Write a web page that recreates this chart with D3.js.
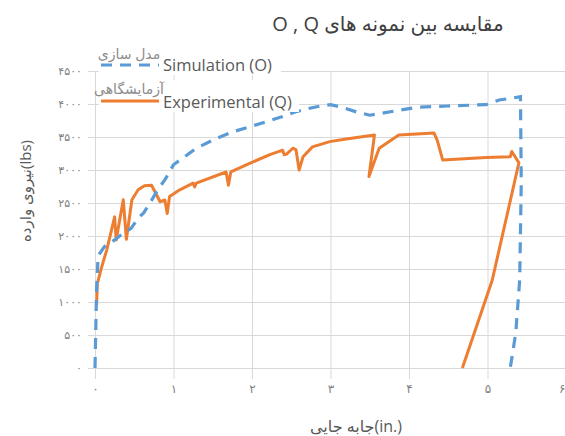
<!DOCTYPE html>
<html>
<head>
<meta charset="utf-8">
<script src="https://cdn.jsdelivr.net/npm/d3@7/dist/d3.min.js"></script>
<style>
	body { margin: 0; background: #fff; }
	text { font-family: "Open Sans", "DejaVu Sans", sans-serif; }
</style>
</head>
<body>
<svg class="chart"></svg>
<script>

// Simulation (O) - dashed blue
var simX = [0.00, 0.01, 0.02, 0.04, 0.12, 0.25, 0.33, 0.46, 0.55, 0.62, 0.70, 0.80, 0.90, 1.00, 1.14, 1.29, 1.55, 1.76, 1.97, 2.18, 2.39, 2.55, 2.75, 2.90, 3.00, 3.15, 3.33, 3.50, 3.65, 3.80, 4.10, 4.50, 4.98, 5.15, 5.42, 5.43, 5.41, 5.36, 5.29];
var simY = [0, 600, 1200, 1700, 1840, 1940, 2015, 2115, 2270, 2350, 2500, 2700, 2870, 3080, 3200, 3330, 3480, 3580, 3655, 3730, 3810, 3880, 3940, 3975, 3990, 3950, 3880, 3830, 3860, 3890, 3950, 3970, 3990, 4060, 4110, 2800, 1330, 530, 0];

// Experimental (Q) - solid orange
var expX = [0.02, 0.03, 0.08, 0.15, 0.21, 0.25, 0.27, 0.36, 0.40, 0.47, 0.55, 0.63, 0.72, 0.83, 0.89, 0.92, 0.95, 1.08, 1.25, 1.27, 1.29, 1.67, 1.70, 1.73, 1.97, 2.22, 2.39, 2.41, 2.44, 2.52, 2.56, 2.60, 2.65, 2.77, 2.99, 3.20, 3.56, 3.49, 3.62, 3.87, 4.32, 4.36, 4.43, 4.98, 5.29, 5.31, 5.40, 5.06, 4.68];
var expY = [950, 1280, 1510, 1790, 2090, 2290, 1940, 2550, 1950, 2550, 2700, 2760, 2770, 2520, 2545, 2340, 2600, 2700, 2800, 2745, 2800, 2970, 2770, 2970, 3100, 3230, 3300, 3230, 3240, 3330, 3310, 3000, 3200, 3350, 3430, 3470, 3530, 2900, 3330, 3530, 3560, 3450, 3150, 3190, 3200, 3280, 3110, 1330, 0];

var xTicks = [0, 1, 2, 3, 4, 5, 6];
var xTickLabels = ["۰", "۱", "۲", "۳", "۴", "۵", "۶"];
var yTicks = [0, 500, 1000, 1500, 2000, 2500, 3000, 3500, 4000, 4500];
var yTickLabels = ["۰", "۵۰۰", "۱۰۰۰", "۱۵۰۰", "۲۰۰۰", "۲۵۰۰", "۳۰۰۰", "۳۵۰۰", "۴۰۰۰", "۴۵۰۰"];

var seriesNames = ["Simulation (O)", "Experimental (Q)"];
var seriesNamesFa = ["مدل سازی", "آزمایشگاهی"];
var chartTitle = "مقایسه بین نمونه های O , Q";
var yTitle = "نیروی وارده(lbs)";
var xTitle = "جابه جایی(in.)";

var svgWidth = 565,
	svgHeight = 436;

var chart = d3.select( ".chart" )
	.attr( "width", svgWidth )
	.attr( "height", svgHeight );

var plotLeft = 95,
	plotRight = 566,
	plotTop = 71,
	plotBottom = 368;

var x = d3.scaleLinear().domain( [0, 6] ).range( [plotLeft, plotRight] );
var y = d3.scaleLinear().domain( [0, 4500] ).range( [plotBottom, plotTop] );

var gridColor = "#d9d9d9",
	blue = "#5b9bd5",
	orange = "#ed7d31";

// y grid + labels
var yAxis = chart.append( "g" )
	.attr( "transform", "translate(" + plotLeft + ",0)" )
	.call( d3.axisLeft( y )
		.tickValues( yTicks )
		.tickFormat( function(d, i) { return yTickLabels[i]; } )
		.tickSizeInner( -(plotRight - plotLeft) )
		.tickSizeOuter( 0 )
		.tickPadding( 13 ) );
yAxis.select( ".domain" ).remove();
yAxis.selectAll( "line" ).attr( "x1", -7 ).attr( "stroke", gridColor );
yAxis.selectAll( "text" )
	.attr( "fill", "#7f7f7f" )
	.style( "font-family", "'DejaVu Sans', sans-serif" )
	.style( "font-size", "11px" );

// x grid + labels
var xAxis = chart.append( "g" )
	.attr( "transform", "translate(0," + plotBottom + ")" )
	.call( d3.axisBottom( x )
		.tickValues( xTicks )
		.tickFormat( function(d, i) { return xTickLabels[i]; } )
		.tickSizeInner( -(plotBottom - plotTop) )
		.tickSizeOuter( 0 )
		.tickPadding( 16 ) );
xAxis.select( ".domain" ).remove();
xAxis.selectAll( "line" ).attr( "y1", 11 ).attr( "stroke", gridColor );
xAxis.selectAll( "text" )
	.attr( "fill", "#7f7f7f" )
	.style( "font-family", "'DejaVu Sans', sans-serif" )
	.style( "font-size", "12px" );
// last label sits on the window edge, keep it inside
xAxis.selectAll( "text" )
	.filter( function(d) { return d === 6; } )
	.attr( "text-anchor", "end" )
	.attr( "dx", "-1" );

// series
var line = d3.line()
	.x( function(d) { return x( d[0] ); } )
	.y( function(d) { return y( d[1] ); } );

chart.append( "path" )
	.datum( d3.zip( expX, expY ) )
	.attr( "d", line )
	.attr( "fill", "none" )
	.attr( "stroke", orange )
	.attr( "stroke-width", 3 )
	.attr( "stroke-linejoin", "round" );

chart.append( "path" )
	.datum( d3.zip( simX, simY ) )
	.attr( "d", line )
	.attr( "fill", "none" )
	.attr( "stroke", blue )
	.attr( "stroke-width", 3.2 )
	.attr( "stroke-dasharray", "11,8" );

// legend
var legend = chart.append( "g" );
var rows = [
	{ top: 47, bottom: 75, line: 65, text: 71, fa: 59, color: blue, dash: "11,8" },
	{ top: 80, bottom: 112, line: 101, text: 108, fa: 94, color: orange, dash: null }
];

rows.forEach( function(r, i) {
	legend.append( "rect" )
		.attr( "x", 99 )
		.attr( "y", r.top )
		.attr( "width", i === 0 ? 182 : 200 )
		.attr( "height", r.bottom - r.top )
		.attr( "fill", "#fff" );
	legend.append( "line" )
		.attr( "x1", 101 ).attr( "x2", 159 )
		.attr( "y1", r.line ).attr( "y2", r.line )
		.attr( "stroke", r.color )
		.attr( "stroke-width", 3.2 )
		.attr( "stroke-dasharray", r.dash );
	legend.append( "text" )
		.attr( "x", 163 )
		.attr( "y", r.text )
		.attr( "fill", "#595959" )
		.style( "font-size", "16.5px" )
		.text( seriesNames[i] );
	legend.append( "text" )
		.attr( "x", 129 )
		.attr( "y", r.fa )
		.attr( "text-anchor", "middle" )
		.attr( "fill", "#8c8c8c" )
		.style( "font-size", "14px" )
		.text( seriesNamesFa[i] );
} );

// titles
chart.append( "text" )
	.attr( "x", 388 )
	.attr( "y", 31 )
	.attr( "text-anchor", "middle" )
	.attr( "direction", "rtl" )
	.attr( "fill", "#404040" )
	.style( "font-size", "20px" )
	.text( chartTitle );

chart.append( "text" )
	.attr( "transform", "translate(31,191) rotate(-90)" )
	.attr( "text-anchor", "middle" )
	.attr( "fill", "#595959" )
	.style( "font-size", "15px" )
	.text( yTitle );

chart.append( "text" )
	.attr( "x", 356 )
	.attr( "y", 432 )
	.attr( "text-anchor", "middle" )
	.attr( "fill", "#595959" )
	.style( "font-size", "16px" )
	.text( xTitle );

</script>
</body>
</html>
